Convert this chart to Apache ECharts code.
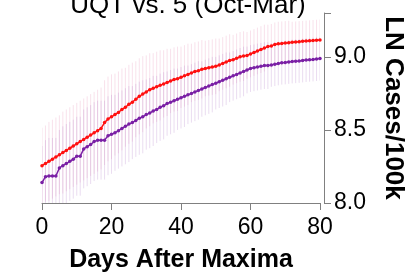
<!DOCTYPE html>
<html lang="en">
<head>
    <meta charset="UTF-8">
    <title>UQT vs. 5</title>
    <script src="https://cdn.jsdelivr.net/npm/echarts@6/dist/echarts.min.js"></script>
    <style>
        html, body { margin: 0; padding: 0; background: #fff; }
    </style>
</head>
<body>
    <div id="main" style="width:406px;height:276px;"></div>
    <script>
// days after maxima, 0..80
var days = [];
for (var d = 0; d <= 80; d++) days.push(d);

// red series (upper line)
var redVals = [
    8.255, 8.27, 8.285, 8.30, 8.315, 8.33, 8.345, 8.36, 8.375, 8.39,
    8.405, 8.42, 8.435, 8.45, 8.465, 8.48, 8.495, 8.51, 8.55, 8.575,
    8.59, 8.605, 8.62, 8.64, 8.655, 8.675, 8.69, 8.71, 8.73, 8.745,
    8.76, 8.775, 8.785, 8.795, 8.805, 8.815, 8.825, 8.835, 8.845, 8.85,
    8.86, 8.87, 8.88, 8.89, 8.90, 8.905, 8.915, 8.92, 8.925, 8.93,
    8.935, 8.945, 8.955, 8.965, 8.975, 8.98, 8.99, 9.00, 9.005, 9.01,
    9.02, 9.03, 9.04, 9.05, 9.06, 9.07, 9.075, 9.085, 9.09, 9.092,
    9.095, 9.097, 9.10, 9.102, 9.104, 9.106, 9.108, 9.11, 9.112, 9.114,
    9.115
];
// purple series (lower line)
var purpleVals = [
    8.14, 8.18, 8.185, 8.185, 8.185, 8.24, 8.255, 8.27, 8.285, 8.30,
    8.32, 8.32, 8.37, 8.385, 8.40, 8.42, 8.43, 8.43, 8.43, 8.46,
    8.47, 8.48, 8.495, 8.51, 8.525, 8.54, 8.55, 8.565, 8.58, 8.59,
    8.605, 8.615, 8.63, 8.64, 8.655, 8.665, 8.68, 8.69, 8.70, 8.71,
    8.72, 8.73, 8.74, 8.75, 8.76, 8.77, 8.78, 8.79, 8.80, 8.81,
    8.82, 8.83, 8.84, 8.85, 8.86, 8.87, 8.88, 8.89, 8.90, 8.91,
    8.92, 8.925, 8.93, 8.935, 8.94, 8.94, 8.945, 8.95, 8.955, 8.96,
    8.962, 8.965, 8.968, 8.97, 8.972, 8.975, 8.978, 8.98, 8.982, 8.985,
    8.988
];
// error bar half-widths
var redErr = [
    0.26, 0.26, 0.27, 0.27, 0.27, 0.27, 0.28, 0.28, 0.28, 0.28,
    0.28, 0.28, 0.28, 0.28, 0.28, 0.28, 0.28, 0.28, 0.29, 0.29,
    0.29, 0.28, 0.28, 0.28, 0.27, 0.27, 0.27, 0.26, 0.26, 0.26,
    0.25, 0.25, 0.24, 0.24, 0.24, 0.23, 0.23, 0.22, 0.22, 0.22,
    0.21, 0.21, 0.21, 0.20, 0.20, 0.20, 0.20, 0.19, 0.19, 0.19,
    0.19, 0.18, 0.18, 0.18, 0.18, 0.17, 0.17, 0.17, 0.17, 0.16,
    0.16, 0.16, 0.16, 0.16, 0.16, 0.15, 0.15, 0.15, 0.15, 0.15,
    0.15, 0.15, 0.14, 0.14, 0.14, 0.14, 0.14, 0.14, 0.14, 0.14,
    0.14
];
var purpleErr = [
    0.25, 0.25, 0.26, 0.26, 0.26, 0.26, 0.27, 0.27, 0.27, 0.27,
    0.27, 0.27, 0.27, 0.27, 0.27, 0.27, 0.27, 0.27, 0.27, 0.27,
    0.27, 0.26, 0.26, 0.26, 0.26, 0.26, 0.25, 0.25, 0.25, 0.25,
    0.24, 0.24, 0.24, 0.23, 0.23, 0.23, 0.22, 0.22, 0.22, 0.21,
    0.21, 0.21, 0.20, 0.20, 0.20, 0.20, 0.19, 0.19, 0.19, 0.19,
    0.18, 0.18, 0.18, 0.18, 0.17, 0.17, 0.17, 0.17, 0.17, 0.16,
    0.16, 0.16, 0.16, 0.16, 0.16, 0.16, 0.15, 0.15, 0.15, 0.15,
    0.15, 0.15, 0.15, 0.15, 0.15, 0.15, 0.15, 0.15, 0.15, 0.15,
    0.15
];
var xTicks = [0, 20, 40, 60, 80];
var yTicks = [8.0, 8.5, 9.0];

var FONT = 'Liberation Sans, Arial, sans-serif';

function errData(vals, err) {
    return days.map(function (d, i) { return [d, vals[i] - err[i], vals[i] + err[i]]; });
}
function lineData(vals) {
    return days.map(function (d, i) { return [d, vals[i]]; });
}
function errBars(color) {
    return function (params, api) {
        var x = api.value(0);
        var lo = api.coord([x, api.value(1)]);
        var hi = api.coord([x, api.value(2)]);
        return {
            type: 'line',
            shape: { x1: lo[0], y1: lo[1], x2: hi[0], y2: hi[1] },
            style: { stroke: color, lineWidth: 1 }
        };
    };
}

var myChart = echarts.init(document.getElementById('main'));
myChart.setOption({
    animation: false,
    title: {
        text: 'UQT vs. 5 (Oct-Mar)',
        left: 183,
        textAlign: 'center',
        top: -12,
        textStyle: { fontFamily: FONT, fontSize: 26, fontWeight: 'normal', color: '#000' }
    },
    grid: { left: 42, right: 86, top: 13, bottom: 73, outerBoundsMode: 'none', containLabel: false },
    xAxis: {
        type: 'value',
        min: 0, max: 80, interval: 20,
        name: 'Days After Maxima',
        nameLocation: 'middle',
        nameGap: 45,
        nameTextStyle: { fontFamily: FONT, fontSize: 25, fontWeight: 'bold', color: '#000' },
        axisLine: { show: true, onZero: false, lineStyle: { color: '#808080', width: 1 } },
        axisTick: { show: true, length: 7, lineStyle: { color: '#808080' } },
        axisLabel: {
            margin: 13, fontFamily: FONT, fontSize: 23, color: '#000',
            formatter: function (v) { return xTicks.indexOf(v) >= 0 ? String(v) : ''; }
        },
        splitLine: { show: false }
    },
    yAxis: {
        type: 'value',
        position: 'right',
        offset: 4,
        min: 8.0, max: 9.3, interval: 0.5,
        name: 'LN Cases/100k',
        nameLocation: 'middle',
        nameRotate: -90,
        nameGap: 56,
        nameTextStyle: { fontFamily: FONT, fontSize: 26, fontWeight: 'bold', color: '#000' },
        axisLine: { show: true, onZero: false, lineStyle: { color: '#808080', width: 1 } },
        axisTick: { show: true, length: 7, lineStyle: { color: '#808080' } },
        axisLabel: {
            margin: 10, fontFamily: FONT, fontSize: 23, color: '#000',
            formatter: function (v) {
                for (var i = 0; i < yTicks.length; i++) {
                    if (Math.abs(yTicks[i] - v) < 1e-6) return v.toFixed(1);
                }
                return '';
            }
        },
        splitLine: { show: false }
    },
    series: [
        {
            type: 'custom',
            clip: true,
            renderItem: errBars('rgba(230,140,180,0.25)'),
            data: errData(redVals, redErr),
            z: 1
        },
        {
            type: 'custom',
            clip: true,
            renderItem: errBars('rgba(175,120,200,0.25)'),
            data: errData(purpleVals, purpleErr),
            z: 1
        },
        {
            type: 'line',
            data: lineData(redVals),
            symbol: 'circle',
            symbolSize: 3.5,
            itemStyle: { color: '#ff1010' },
            lineStyle: { color: '#ff1010', width: 1.5 },
            z: 3
        },
        {
            type: 'line',
            data: lineData(purpleVals),
            symbol: 'circle',
            symbolSize: 3.5,
            itemStyle: { color: '#7a1fa5' },
            lineStyle: { color: '#7a1fa5', width: 1.5 },
            z: 3
        }
    ]
});
    </script>
</body>
</html>
